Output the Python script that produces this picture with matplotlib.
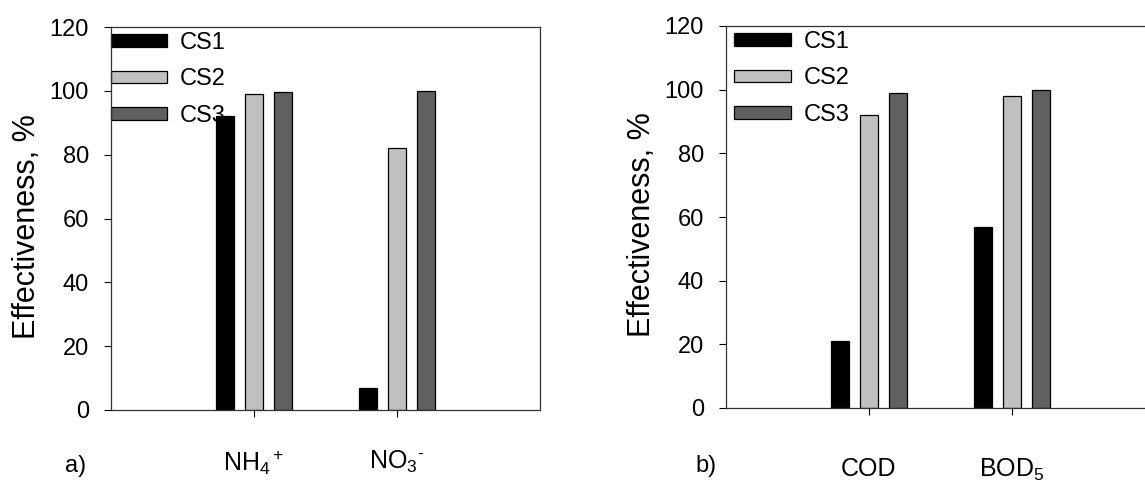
import numpy as np
import matplotlib
matplotlib.use("Agg")
import matplotlib.pyplot as plt

plt.rcParams['font.family'] = ['Liberation Sans', 'DejaVu Sans']
plt.rcParams['mathtext.fontset'] = 'custom'
plt.rcParams['mathtext.rm'] = 'Liberation Sans'
plt.rcParams['mathtext.it'] = 'Liberation Sans:italic'

series = ['CS1', 'CS2', 'CS3']
colors = ['#000000', '#c0c0c0', '#606060']

# panel a
cats_a = [r'NH$_4$$^+$', 'NO$_3$$^{\u2010}$']
a_cs1 = [92, 7]
a_cs2 = [99, 82]
a_cs3 = [99.5, 100]

# panel b
cats_b = ['COD', r'BOD$_5$']
b_cs1 = [21, 57]
b_cs2 = [92, 98]
b_cs3 = [99, 100]

fig = plt.figure(figsize=(11.45, 4.82), dpi=100)
ax1 = fig.add_axes([111/1145, 1-410/482, 429/1145, (410-27)/482])
ax2 = fig.add_axes([726/1145, 1-408/482, 429/1145, (408-26)/482])


def draw(ax, cats, vals, pad, leg_x):
    x = np.arange(1, len(cats) + 1)
    offs = [-0.2, 0, 0.2]
    for v, o, c, name in zip(vals, offs, colors, series):
        ax.bar(x + o, v, width=0.125, color=c, edgecolor='black',
               linewidth=0.9, label=name, zorder=2)
    ax.set_xlim(0, 3)
    ax.set_ylim(0, 120)
    ax.set_yticks(np.arange(0, 121, 20))
    ax.set_xticks(x)
    ax.set_xticklabels(cats, fontsize=18)
    ax.tick_params(axis='y', direction='out', length=5, pad=11, labelsize=17)
    ax.tick_params(axis='x', direction='out', length=5, pad=pad)
    ax.set_ylabel('Effectiveness, %', fontsize=22, labelpad=5)
    ax.yaxis.label.set_y(0.48)
    for s in ax.spines.values():
        s.set_linewidth(0.9)
        s.set_color('#333333')
    leg = ax.legend(loc='upper left', bbox_to_anchor=(leg_x, 1.0),
                    frameon=False, fontsize=17, handlelength=2.4,
                    handleheight=0.45, labelspacing=0.62, handletextpad=0.55,
                    borderpad=0.0, borderaxespad=0.2)
    leg.set_zorder(1)


draw(ax1, cats_a, [a_cs1, a_cs2, a_cs3], 23, -0.012)
draw(ax2, cats_b, [b_cs1, b_cs2, b_cs3], 30, 0.008)

fig.text(65/1145, 1-466/482, 'a)', fontsize=17, va='center', ha='left')
fig.text(695/1145, 1-466/482, 'b)', fontsize=17, va='center', ha='left')

fig.savefig('out.png', dpi=100)
